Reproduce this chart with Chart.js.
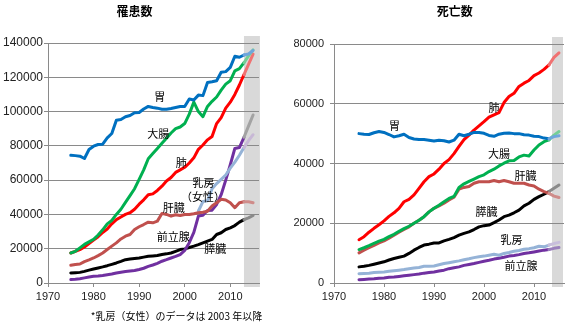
<!DOCTYPE html>
<html>
<head>
<meta charset="utf-8">
<script src="https://cdn.jsdelivr.net/npm/chart.js@4.4.1/dist/chart.umd.min.js"></script>
<style>
  body { margin: 0; background: #fff; }
  #wrap { position: relative; width: 570px; height: 328px; }
  #incChart { position: absolute; left: 0; top: 0; }
  #deathChart { position: absolute; left: 290px; top: 0; }
</style>
</head>
<body>
<div id="wrap">
  <canvas id="incChart" width="290" height="328"></canvas>
  <canvas id="deathChart" width="280" height="328"></canvas>
</div>
<script>
  const years = [1975, 1976, 1977, 1978, 1979, 1980, 1981, 1982, 1983, 1984,
                 1985, 1986, 1987, 1988, 1989, 1990, 1991, 1992, 1993, 1994,
                 1995, 1996, 1997, 1998, 1999, 2000, 2001, 2002, 2003, 2004,
                 2005, 2006, 2007, 2008, 2009, 2010, 2011, 2012, 2013, 2014, 2015];

  // 罹患数
  const stomachInc  = [74500, 74300, 74000, 72600, 77900, 79800, 80800, 81000, 84700, 87200,
                       95000, 95400, 97000, 97700, 99300, 99500, 101500, 103000, 102400, 102000,
                       101400, 101400, 101800, 102400, 103000, 103000, 107300, 106700, 109600, 109300,
                       117000, 117400, 118000, 122900, 123300, 125800, 132300, 131700, 133000, 133600, 135600];
  const colonInc    = [17500, 18500, 20500, 22500, 24000, 25500, 28000, 31000, 34500, 36500,
                       40000, 43000, 47000, 51000, 55000, 60500, 66000, 72500, 75500, 78500,
                       81500, 84500, 87500, 90000, 91000, 93000, 98500, 105500, 100000, 97000,
                       103000, 106000, 108500, 112500, 116000, 118000, 123700, 125000, 128500, 132500, 136000];
  const lungInc     = [17500, 18500, 19500, 21000, 23000, 25000, 27000, 29500, 31500, 34500,
                       37000, 38500, 40000, 41000, 43000, 46000, 48500, 51500, 52000, 54000,
                       56500, 59500, 61500, 64500, 66000, 67500, 70000, 73000, 78000, 80500,
                       83500, 85500, 93000, 96500, 102000, 105500, 110000, 115500, 121500, 127500, 133500];
  const breastInc   = [null, null, null, null, null, null, null, null, null, null,
                       null, null, null, null, null, null, null, null, null, null,
                       null, null, null, null, null, null, null, null, 42000, 47500,
                       48000, 55000, 58000, 60500, 63000, 67000, 70500, 74500, 79000, 83000, 86500];
  const liverInc    = [10300, 10800, 11100, 12500, 13500, 14600, 16000, 17500, 19500, 21500,
                       23400, 25700, 27300, 28300, 31200, 32800, 34100, 35500, 35100, 36100,
                       40600, 40000, 39000, 39800, 39400, 40000, 40000, 40400, 41000, 41300,
                       41900, 44900, 46800, 48800, 48400, 46800, 43900, 46800, 47400, 47400, 46800];
  const prostateInc = [2000, 2200, 2500, 3000, 3500, 3900, 4100, 4400, 4800, 5200,
                       5800, 6300, 6700, 7000, 7300, 7900, 8600, 9700, 10500, 11500,
                       12700, 13600, 14600, 15500, 16600, 19000, 23500, 29500, 39000, 39500,
                       42300, 42500, 45800, 51500, 60000, 69000, 78500, 79000, 85000, 91500, 98000];
  const pancreasInc = [5850, 6000, 6200, 6800, 7500, 8200, 8800, 9400, 10100, 10900,
                       11700, 12600, 13600, 14000, 14300, 14600, 15100, 15600, 15800, 16000,
                       16600, 17000, 17500, 18500, 19500, 19900, 20700, 21500, 22400, 23400,
                       24400, 25400, 28300, 29300, 31200, 32200, 33500, 35500, 37000, 38000, 39400];

  // 死亡数
  const stomachDeath  = [50000, 49800, 49700, 50300, 50700, 50400, 49700, 48900, 49300, 49800,
                         48700, 48200, 48000, 48000, 47800, 47500, 47800, 47600, 47200, 47800,
                         49800, 49300, 49800, 50400, 50400, 50100, 49400, 49100, 49800, 50100,
                         50200, 50000, 50000, 49600, 49500, 49100, 49000, 48500, 48300, 49000, 49300];
  const lungDeath     = [14500, 15500, 17000, 18300, 19500, 20800, 22300, 23500, 25000, 27200,
                         28000, 29500, 31700, 33900, 35600, 36500, 38100, 40000, 41300, 43300,
                         45700, 48000, 49500, 51200, 52600, 54000, 55500, 56300, 57000, 60400,
                         62400, 63500, 65800, 66900, 67800, 69400, 70300, 71500, 73000, 75500, 77000];
  const colonDeath    = [11200, 11800, 12500, 13300, 14000, 14600, 15500, 16300, 17300, 18200,
                         19000, 20000, 21000, 22200, 23800, 25000, 26000, 27200, 28300, 29000,
                         32000, 33200, 34000, 34800, 35600, 36200, 37300, 38100, 39200, 40100,
                         40900, 41000, 42200, 42800, 42500, 44500, 46200, 47300, 47900, 49500, 50700];
  const liverDeath    = [10100, 11000, 11800, 12600, 13400, 14100, 15000, 16000, 17000, 17900,
                         18800, 20000, 21000, 22200, 23800, 25000, 25800, 26700, 27800, 28700,
                         31400, 32000, 32300, 33400, 33900, 33900, 33900, 34300, 33900, 34300,
                         33900, 33400, 33400, 33400, 32800, 32500, 31400, 30600, 30000, 29100, 28600];
  const pancreasDeath = [5400, 5600, 5900, 6300, 6700, 7100, 7700, 8200, 8600, 9000,
                         9900, 11000, 11900, 12700, 13000, 13400, 13400, 14100, 14600, 15200,
                         16000, 16600, 17100, 17900, 18800, 19200, 19400, 20200, 21100, 22200,
                         22700, 23500, 24400, 25800, 26700, 28000, 28900, 29700, 30600, 31700, 32800];
  const breastDeath   = [3100, 3200, 3300, 3500, 3600, 3700, 3900, 4100, 4300, 4500,
                         4800, 5000, 5200, 5600, 5600, 5700, 6100, 6500, 6800, 7100,
                         7400, 7800, 8100, 8500, 8800, 9000, 9300, 9600, 9300, 9900,
                         10200, 10600, 10900, 11300, 11500, 11800, 12300, 12100, 12700, 13200, 13600];
  const prostateDeath = [1100, 1200, 1300, 1400, 1600, 1700, 1900, 2000, 2200, 2400,
                         2600, 2800, 3000, 3300, 3500, 3700, 4000, 4300, 4800, 5100,
                         5400, 5900, 6200, 6500, 6900, 7300, 7600, 8000, 8300, 8600,
                         9000, 9200, 9500, 9900, 10100, 10400, 10700, 11000, 11200, 11600, 11900];

  const incTicks = [0, 20000, 40000, 60000, 80000, 100000, 120000, 140000];
  const deathTicks = [0, 20000, 40000, 60000, 80000];

  const PROJ_FROM = 2013;   // 推計値 (gray band)
  const GRID = '#8a8a8a';
  const JP = "'Noto Sans CJK JP', 'Noto Sans', sans-serif";

  Chart.defaults.font.family = "'Liberation Sans', Arial, sans-serif";
  Chart.defaults.color = '#222';

  function toPoints(vals) {
    return years.map((y, i) => ({ x: y, y: vals[i] }));
  }

  function lineSet(label, vals, color, projColor) {
    return {
      label: label,
      data: toPoints(vals),
      borderColor: color,
      borderWidth: 3,
      pointRadius: 0,
      tension: 0,
      borderJoinStyle: 'round',
      borderCapStyle: 'round',
      segment: {
        borderColor: (ctx) => ctx.p0.parsed.x >= PROJ_FROM ? projColor : undefined
      }
    };
  }

  // gray band behind the grid
  const bandPlugin = {
    id: 'band',
    beforeDraw(chart, args, opts) {
      const a = chart.chartArea;
      const xs = chart.scales.x;
      const x0 = xs.getPixelForValue(opts.from);
      const x1 = xs.getPixelForValue(opts.to);
      const c = chart.ctx;
      c.save();
      c.fillStyle = '#d9d9d9';
      c.fillRect(x0, a.top - 7, x1 - x0, a.bottom - a.top + 11);
      c.restore();
    }
  };

  const textPlugin = {
    id: 'texts',
    afterDraw(chart, args, opts) {
      const c = chart.ctx;
      const xs = chart.scales.x, ys = chart.scales.y;
      c.save();
      c.textAlign = 'center';
      c.textBaseline = 'middle';
      c.fillStyle = '#000';
      c.font = 'bold 12px ' + JP;
      c.fillText(opts.title.text, opts.title.x, opts.title.y);
      c.font = '11px ' + JP;
      opts.labels.forEach((l) => {
        c.fillText(l.text, xs.getPixelForValue(l.x), ys.getPixelForValue(l.y));
      });
      if (opts.note) {
        c.font = '10px ' + JP;
        c.fillText(opts.note.text, opts.note.x, opts.note.y);
      }
      c.restore();
    }
  };

  function makeOptions(cfg) {
    return {
      responsive: false,
      animation: false,
      layout: { padding: { left: 0, top: cfg.top, right: cfg.right, bottom: 0 } },
      plugins: {
        legend: { display: false },
        tooltip: { enabled: false },
        band: { from: PROJ_FROM + cfg.bandShift, to: cfg.bandTo },
        texts: { title: cfg.title, labels: cfg.labels, note: cfg.note }
      },
      scales: {
        x: {
          type: 'linear',
          min: 1970,
          max: cfg.xMax,
          afterFit: (s) => { s.height = 45; },
          ticks: {
            stepSize: 10, includeBounds: false, maxRotation: 0, padding: 3,
            font: { size: 11 },
            callback: (v) => String(v)
          },
          grid: { drawOnChartArea: false, drawTicks: true, tickLength: 4, color: GRID },
          border: { color: GRID }
        },
        y: {
          min: 0,
          max: cfg.ticks[cfg.ticks.length - 1],
          afterFit: (s) => { s.width = cfg.yWidth; },
          afterBuildTicks: (s) => { s.ticks = cfg.ticks.map((v) => ({ value: v })); },
          ticks: {
            padding: cfg.yPad,
            font: { size: cfg.yFont },
            callback: (v) => String(v)
          },
          grid: { color: GRID, tickLength: 4 },
          border: { color: GRID }
        }
      }
    };
  }

  new Chart(document.getElementById('incChart'), {
    type: 'line',
    data: {
      datasets: [
        lineSet('胃', stomachInc, '#0070c0', '#6ea6dc'),
        lineSet('大腸', colonInc, '#00b050', '#74cf96'),
        lineSet('肺', lungInc, '#ff0000', '#f07272'),
        lineSet('肝臓', liverInc, '#c0504d', '#cf8c8a'),
        lineSet('乳房', breastInc, '#95b3d7', '#c8b8d6'),
        lineSet('前立腺', prostateInc, '#7030a0', '#a3a3a3'),
        lineSet('膵臓', pancreasInc, '#000000', '#8a8a8a')
      ]
    },
    options: makeOptions({
      top: 43, right: 31, xMax: 2016.3, bandShift: 0, bandTo: 2016.5,
      ticks: incTicks, yWidth: 48, yPad: 1, yFont: 12,
      title: { text: '罹患数', x: 134.5, y: 11 },
      note: { text: '*乳房（女性）のデータは 2003 年以降', x: 176.5, y: 315.8 },
      labels: [
        { text: '胃', x: 1994.5, y: 108800 },
        { text: '大腸', x: 1994.2, y: 87200 },
        { text: '肺', x: 1999.25, y: 70000 },
        { text: '乳房', x: 2004.1, y: 58300 },
        { text: '（女性）', x: 2004.0, y: 50300 },
        { text: '肝臓', x: 1997.6, y: 44000 },
        { text: '前立腺', x: 1997.5, y: 26700 },
        { text: '膵臓', x: 2006.7, y: 19900 }
      ]
    }),
    plugins: [bandPlugin, textPlugin]
  });

  new Chart(document.getElementById('deathChart'), {
    type: 'line',
    data: {
      datasets: [
        lineSet('胃', stomachDeath, '#0070c0', '#6ea6dc'),
        lineSet('肺', lungDeath, '#ff0000', '#f07272'),
        lineSet('大腸', colonDeath, '#00b050', '#74cf96'),
        lineSet('肝臓', liverDeath, '#c0504d', '#cf8c8a'),
        lineSet('膵臓', pancreasDeath, '#000000', '#8a8a8a'),
        lineSet('乳房', breastDeath, '#95b3d7', '#c8bedc'),
        lineSet('前立腺', prostateDeath, '#7030a0', '#9a80bc')
      ]
    },
    options: makeOptions({
      top: 44, right: 6, xMax: 2016.0, bandShift: 0.6, bandTo: 2015.8,
      ticks: deathTicks, yWidth: 44, yPad: 6, yFont: 11,
      title: { text: '死亡数', x: 164.7, y: 11 },
      note: null,
      labels: [
        { text: '胃', x: 1982.1, y: 52600 },
        { text: '肺', x: 2002.0, y: 58500 },
        { text: '大腸', x: 2003.0, y: 43100 },
        { text: '肝臓', x: 2008.3, y: 36000 },
        { text: '膵臓', x: 2000.5, y: 23800 },
        { text: '乳房', x: 2005.5, y: 14300 },
        { text: '前立腺', x: 2007.4, y: 5900 }
      ]
    }),
    plugins: [bandPlugin, textPlugin]
  });
</script>
</body>
</html>
